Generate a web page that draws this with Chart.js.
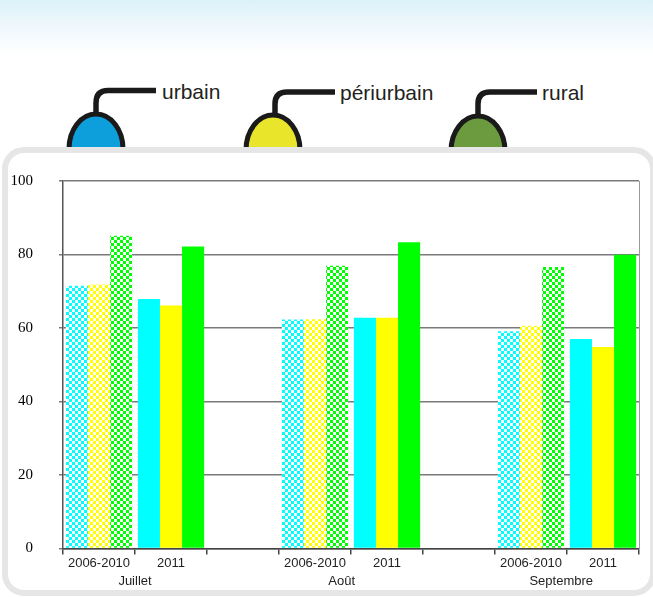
<!DOCTYPE html>
<html>
<head>
<meta charset="utf-8">
<script src="https://cdn.jsdelivr.net/npm/chart.js@4.4.1/dist/chart.umd.min.js"></script>
<style>
  html, body { margin: 0; padding: 0; background: #fff; }
  #page { position: relative; width: 653px; height: 597px; overflow: hidden; background: #fff; }
  #sky { position: absolute; left: 0; top: 0; width: 653px; height: 55px;
         background: linear-gradient(to bottom, #dcf1fa 0%, #eef8fc 45%, #ffffff 100%); }
  #legend { position: absolute; left: 0; top: 0; }
  #box { position: absolute; left: 2px; top: 147px; width: 642px; height: 437px;
         border: 6px solid #e6e6e6; border-radius: 22px; background: #fff; }
  #c { position: absolute; left: 0; top: 0; }
</style>
</head>
<body>
<div id="page">
  <div id="sky"></div>
  <svg id="legend" width="653" height="160" xmlns="http://www.w3.org/2000/svg">
    <g stroke="#1a1a1a" stroke-width="5.5" fill="none">
      <path d="M 96 116 V 103 Q 96 90.5 108 90.5 H 156"/>
      <path d="M 275 117 V 104 Q 275 92 287 92 H 335"/>
      <path d="M 478 118 V 104 Q 478 92 490 92 H 537"/>
    </g>
    <g stroke="#1a1a1a" stroke-width="5">
      <ellipse cx="96" cy="149" rx="27" ry="35" fill="#0d9fdb"/>
      <ellipse cx="273" cy="150" rx="27" ry="35" fill="#e9e52b"/>
      <ellipse cx="478" cy="151" rx="27" ry="35" fill="#6b9a3f"/>
    </g>
    <g font-family="Liberation Sans, Arial, sans-serif" font-size="21" fill="#231f20">
      <text x="162" y="99">urbain</text>
      <text x="340" y="100">périurbain</text>
      <text x="542" y="100">rural</text>
    </g>
  </svg>
  <div id="box"></div>
  <canvas id="c" width="653" height="597"></canvas>
</div>
<script>
// ---- data ----
const categories = ['2006-2010', '2011', '', '2006-2010', '2011', '', '2006-2010', '2011'];
const months = ['Juillet', 'Août', 'Septembre'];
const seriesNames = ['urbain', 'périurbain', 'rural'];
const urbain     = [71.5, 67.9, null, 62.3, 62.8, null, 59.1, 57.0];
const periurbain = [71.8, 66.1, null, 62.4, 62.8, null, 60.6, 54.8];
const rural      = [85.1, 82.2, null, 76.9, 83.3, null, 76.6, 79.9];
const yTickValues = [0, 20, 40, 60, 80, 100];

// ---- styling ----
const solidColors = ['#00ffff', '#ffff00', '#00ff00'];
const monthTickAt = [1, 3.87, 6.92]; // month label anchors along the category slots

const canvas = document.getElementById('c');
const ctx = canvas.getContext('2d');
function checker(color) {
  const t = document.createElement('canvas');
  t.width = 6; t.height = 6;
  const g = t.getContext('2d');
  g.fillStyle = '#ffffff'; g.fillRect(0, 0, 6, 6);
  g.fillStyle = color; g.fillRect(0, 0, 3, 3); g.fillRect(3, 3, 3, 3);
  return ctx.createPattern(t, 'repeat');
}
const patterns = solidColors.map(checker);

function makeDataset(i, values) {
  return {
    label: seriesNames[i],
    data: values,
    backgroundColor: c => categories[c.dataIndex] === '2006-2010' ? patterns[i] : solidColors[i],
    borderWidth: 0,
    categoryPercentage: 0.92,
    barPercentage: 1.0
  };
}

new Chart(ctx, {
  type: 'bar',
  data: {
    labels: categories,
    datasets: [makeDataset(0, urbain), makeDataset(1, periurbain), makeDataset(2, rural)]
  },
  options: {
    responsive: false,
    animation: false,
    events: [],
    layout: { padding: { left: 8, right: 14, top: 181, bottom: 8 } },
    plugins: { legend: { display: false }, tooltip: { enabled: false } },
    scales: {
      x: {
        type: 'category',
        position: 'bottom',
        grid: { drawOnChartArea: false, drawTicks: true, tickLength: 6, color: '#444', lineWidth: 1.5, offset: true },
        border: { color: '#444', width: 1.5 },
        ticks: { font: { family: 'Liberation Sans', size: 13, lineHeight: 1.0 }, color: '#222', padding: 3, maxRotation: 0, autoSkip: false }
      },
      x2: {
        type: 'linear',
        position: 'bottom',
        min: 0, max: 8,
        offset: false,
        grid: { display: false, drawTicks: false },
        border: { display: false },
        afterBuildTicks: s => { s.ticks = monthTickAt.map(v => ({ value: v })); },
        ticks: { callback: (v, i) => months[i], font: { family: 'Liberation Sans', size: 13 }, color: '#222', padding: 0, maxRotation: 0, autoSkip: false }
      },
      y: {
        min: 0, max: 100,
        afterBuildTicks: s => { s.ticks = yTickValues.map(v => ({ value: v })); },
        afterFit: s => { s.width = 55; },
        grid: { color: '#7a7a7a', lineWidth: 1.5, tickLength: 4 },
        border: { color: '#555', width: 1.5 },
        ticks: { font: { family: 'Liberation Serif', size: 15 }, color: '#000', padding: 26 }
      },
      y2: {
        type: 'linear',
        position: 'right',
        min: 0, max: 100,
        grid: { display: false, drawTicks: false },
        ticks: { display: false },
        border: { display: true, color: '#9a9a9a', width: 1 },
        afterFit: s => { s.width = 0; }
      }
    }
  }
});
</script>
</body>
</html>
